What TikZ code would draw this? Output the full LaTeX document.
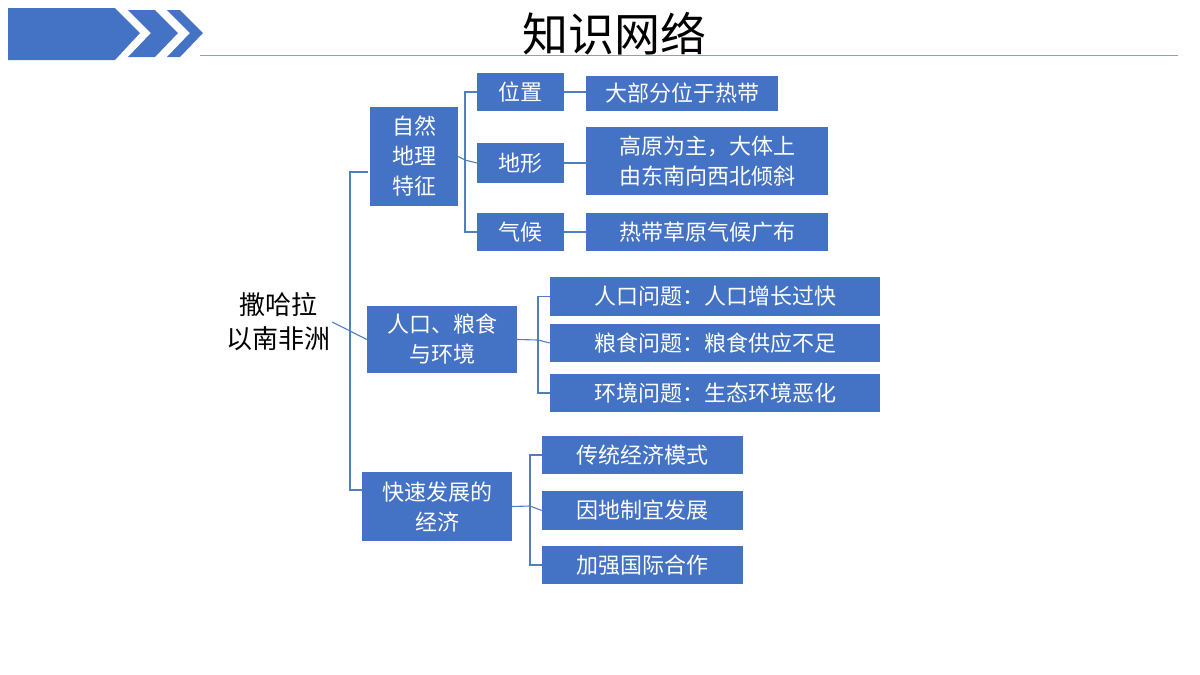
\documentclass[tikz,border=0pt]{standalone}
\usepackage{fontspec}
\setmainfont{Noto Sans CJK SC}
\definecolor{bx}{HTML}{4472C4}
\definecolor{ln}{HTML}{4F7FC0}
\definecolor{tl}{HTML}{8F9CC4}
\begin{document}
\begin{tikzpicture}[x=1pt,y=-1pt,
 box/.style={fill=bx,text=white,inner sep=0pt,align=center,font=\fontsize{22}{30}\selectfont},
 lnk/.style={draw=ln,line width=1.1pt}]
\useasboundingbox (0,0) rectangle (1200,675);
\fill[bx] (8,8) -- (115,8) -- (140,33) -- (115,60) -- (8,60) -- cycle;
\fill[bx] (128,10) -- (155,10) -- (178,33) -- (155,57) -- (128,57) -- (151,33) -- cycle;
\fill[bx] (167,10) -- (180,10) -- (203,33) -- (180,57) -- (167,57) -- (190,33) -- cycle;
\draw[tl,line width=1pt] (200,55) -- (1178,55);
\node[font=\fontsize{46}{50}\selectfont] (title) at (614,34) {知识网络};
\node[align=center,font=\fontsize{26}{34}\selectfont,inner sep=2pt] (root) at (278,322) {撒哈拉\\以南非洲};
% level 1
\node[box,minimum width=88,minimum height=99] (A) at (414,156.5) {自然\\地理\\特征};
\node[box,minimum width=150,minimum height=67] (B) at (442,339.5) {人口、粮食\\与环境};
\node[box,minimum width=150,minimum height=69] (C) at (437,506.5) {快速发展的\\经济};
% level 2 A
\node[box,minimum width=87,minimum height=38] (a1) at (520.5,92) {位置};
\node[box,minimum width=87,minimum height=40] (a2) at (520.5,163) {地形};
\node[box,minimum width=87,minimum height=38] (a3) at (520.5,232) {气候};
\node[box,minimum width=192,minimum height=35] (a1x) at (682,93.5) {大部分位于热带};
\node[box,minimum width=242,minimum height=68] (a2x) at (707,161) {高原为主，大体上\\由东南向西北倾斜};
\node[box,minimum width=242,minimum height=38] (a3x) at (707,232) {热带草原气候广布};
% B
\node[box,minimum width=330,minimum height=39] (b1) at (715,296.5) {人口问题：人口增长过快};
\node[box,minimum width=330,minimum height=38] (b2) at (715,343) {粮食问题：粮食供应不足};
\node[box,minimum width=330,minimum height=38] (b3) at (715,393) {环境问题：生态环境恶化};
% C
\node[box,minimum width=201,minimum height=38] (c1) at (642.5,455) {传统经济模式};
\node[box,minimum width=201,minimum height=39] (c2) at (642.5,510.5) {因地制宜发展};
\node[box,minimum width=201,minimum height=38] (c3) at (642.5,565) {加强国际合作};
% connectors
\coordinate (rb) at (350,322);
\coordinate (rt) at (368,172);
\coordinate (rbm) at (362,490);
\draw[lnk] (root.east) -- (B.west);
\draw[lnk] (rt) -| (rb);
\draw[lnk] (rbm) -| (rb);
\coordinate (ab) at (465,160);
\draw[lnk] (A.east) -- (ab);
\draw[lnk] (a1.west) -| (ab);
\draw[lnk] (a3.west) -| (ab);
\draw[lnk] (a2.west) -- (ab);
\coordinate (bb) at (538,340);
\draw[lnk] (B.east) -- (bb);
\draw[lnk] (b1.west) -| (bb);
\draw[lnk] (b3.west) -| (bb);
\draw[lnk] (b2.west) -- (bb);
\coordinate (cb) at (530,506);
\draw[lnk] (C.east) -- (cb);
\draw[lnk] (c1.west) -| (cb);
\draw[lnk] (c3.west) -| (cb);
\draw[lnk] (c2.west) -- (cb);
\draw[lnk] (a1.east) -- (a1x.west |- a1.east);
\draw[lnk] (a2.east) -- (a2x.west |- a2.east);
\draw[lnk] (a3.east) -- (a3x.west |- a3.east);
\end{tikzpicture}
\end{document}
